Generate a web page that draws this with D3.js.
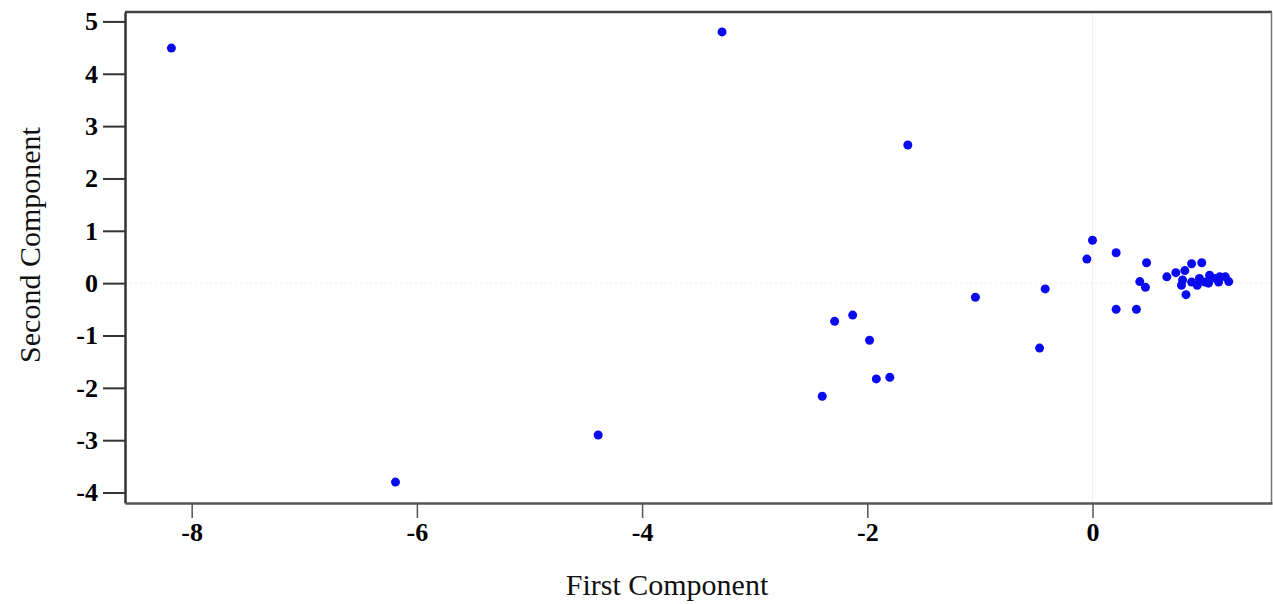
<!DOCTYPE html>
<html>
<head>
<meta charset="utf-8">
<script src="https://cdn.jsdelivr.net/npm/d3@7"></script>
<style>
    body { margin: 0; background: #fff; }
    .tick-label { font-family: "Liberation Serif", "Times New Roman", serif; font-weight: bold; fill: #000; }
    .label { font-family: "Liberation Serif", "Times New Roman", serif; fill: #111; }
</style>
</head>
<body>
<div id="chart"></div>
<script>
// PCA scores (first component, second component)
const firstComponent = [
    -8.18, -3.29, -1.64, -1.04, -0.42, -0.47,
    -2.29, -2.13, -1.98, -1.92, -1.80, -2.40, -4.39, -6.19,
    0.00, -0.05, 0.21, 0.48, 0.42, 0.47, 0.21, 0.39,
    0.66, 0.74, 0.82, 0.88, 0.97, 0.80, 0.79, 0.83,
    0.88, 0.95, 1.00, 1.04, 1.09, 1.13, 1.18, 1.21, 0.93, 1.03, 1.12
];
const secondComponent = [
    4.49, 4.80, 2.64, -0.27, -0.11, -1.24,
    -0.73, -0.61, -1.09, -1.83, -1.80, -2.16, -2.90, -3.80,
    0.82, 0.46, 0.58, 0.39, 0.03, -0.08, -0.50, -0.50,
    0.12, 0.20, 0.24, 0.37, 0.39, 0.06, -0.04, -0.22,
    0.02, 0.09, 0.02, 0.15, 0.09, 0.12, 0.12, 0.03, -0.04, 0.00, 0.02
];
const xTicks = [-8, -6, -4, -2, 0];
const yTicks = [-4, -3, -2, -1, 0, 1, 2, 3, 4, 5];

const xDomain = [-8.592, 1.594];
const yDomain = [-4.2, 5.18];

const width = 1273;
const height = 604;
const margin = { top: 12, right: 1, bottom: 101, left: 125 };

const points = firstComponent.map((x, i) => [x, secondComponent[i]]);

const svg = d3.select('#chart')
    .append('svg')
    .attr('width', width)
    .attr('height', height);

const scaleX = d3.scaleLinear()
    .domain(xDomain)
    .range([margin.left, width - margin.right]);

const scaleY = d3.scaleLinear()
    .domain(yDomain)
    .range([height - margin.bottom, margin.top]);

// faint zero lines (barely visible in the original)
svg.append('line')
    .attr('x1', margin.left).attr('x2', width - margin.right)
    .attr('y1', scaleY(0)).attr('y2', scaleY(0))
    .attr('stroke', '#ececec').attr('stroke-dasharray', '2,3');
svg.append('line')
    .attr('x1', scaleX(0)).attr('x2', scaleX(0))
    .attr('y1', margin.top).attr('y2', height - margin.bottom)
    .attr('stroke', '#f0f0f0');

// frame top + right
svg.append('line')
    .attr('x1', margin.left).attr('x2', width - margin.right)
    .attr('y1', margin.top).attr('y2', margin.top)
    .attr('stroke', '#444').attr('stroke-width', 2.5);
svg.append('line')
    .attr('x1', width - margin.right - 0.5).attr('x2', width - margin.right - 0.5)
    .attr('y1', margin.top).attr('y2', height - margin.bottom)
    .attr('stroke', '#777').attr('stroke-width', 1.5);

// Y axis
const axisY = svg.append('g')
    .attr('transform', `translate(${margin.left}, 0)`)
    .call(d3.axisLeft(scaleY).tickValues(yTicks).tickFormat(d => String(d))
        .tickSizeInner(22).tickSizeOuter(0).tickPadding(5));
axisY.select('.domain').attr('stroke', '#333').attr('stroke-width', 2.5);
axisY.selectAll('.tick line').attr('stroke', '#333').attr('stroke-width', 2);
axisY.selectAll('.tick text').attr('class', 'tick-label').style('font-size', '26px');

// X axis
const axisX = svg.append('g')
    .attr('transform', `translate(0, ${height - margin.bottom})`)
    .call(d3.axisBottom(scaleX).tickValues(xTicks).tickFormat(d => String(d))
        .tickSizeInner(15).tickSizeOuter(0).tickPadding(5));
axisX.select('.domain').attr('stroke', '#555').attr('stroke-width', 2.5);
axisX.selectAll('.tick line').attr('stroke', '#555').attr('stroke-width', 1.5);
axisX.selectAll('.tick text').attr('class', 'tick-label').style('font-size', '26px');

// legend X
svg.append('text')
    .attr('class', 'label')
    .attr('x', 667)
    .attr('y', 595)
    .attr('text-anchor', 'middle')
    .style('font-size', '30px')
    .text('First Component');

// legend Y
svg.append('g')
    .attr('transform', `translate(40, 245) rotate(-90)`)
    .append('text')
    .attr('class', 'label')
    .attr('text-anchor', 'middle')
    .style('font-size', '30px')
    .text('Second Component');

// points
svg.append('g')
    .selectAll('circle')
    .data(points)
    .join('circle')
    .attr('cx', d => scaleX(d[0]))
    .attr('cy', d => scaleY(d[1]))
    .attr('r', 4.5)
    .style('fill', '#0a0aee');
</script>
</body>
</html>
